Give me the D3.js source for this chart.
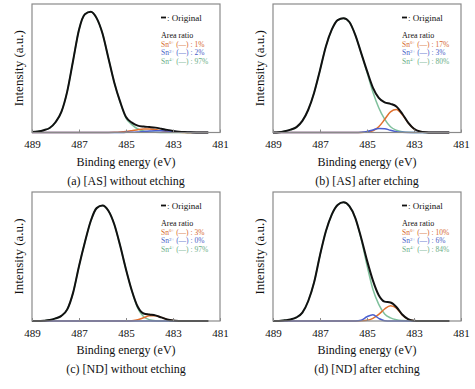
<!DOCTYPE html>
<html>
<head>
<meta charset="utf-8">
<script src="https://cdn.jsdelivr.net/npm/d3@7"></script>
<style>
  body { margin: 0; background: #fff; }
  svg { display: block; }
  svg text { font-family: "Liberation Serif", "DejaVu Serif", "Times New Roman", Times, serif; }
</style>
</head>
<body>
<svg id="chart" width="475" height="389"></svg>
<script>
// binding energy grid (eV), read every 0.25 eV
var energy = [489, 488.75, 488.5, 488.25, 488, 487.75, 487.5, 487.25, 487, 486.75, 486.5, 486.25,
  486, 485.75, 485.5, 485.25, 485, 484.75, 484.5, 484.25, 484, 483.75, 483.5, 483.25,
  483, 482.75, 482.5, 482.25, 482, 481.75, 481.5];

var xTicks = [489, 487, 485, 483, 481];

// (a) [AS] without etching
var asNoEtchOriginal = [0.3, 0.8, 1.8, 3.5, 8, 16, 32, 56, 80, 92, 94, 89, 77, 58, 39, 24, 12, 7.7, 5.35, 4.6, 4.25, 3.8, 2.95, 2.05, 1.25, 0.64, 0.3, 0.11, 0.03, 0, 0];
var asNoEtchSn0 = [0, 0, 0, 0, 0, 0, 0, 0, 0, 0, 0, 0, 0, 0, 0.1, 0.3, 0.7, 1.4, 2.2, 2.7, 2.75, 2.3, 1.5, 0.85, 0.4, 0.14, 0.04, 0, 0, 0, 0];
var asNoEtchSn2 = [0, 0, 0, 0, 0, 0, 0, 0, 0, 0, 0, 0, 0, 0, 0, 0, 0.1, 0.2, 0.45, 0.8, 1.1, 1.36, 1.39, 1.2, 0.85, 0.5, 0.26, 0.11, 0.03, 0, 0];
var asNoEtchSn4 = [0.3, 0.8, 1.8, 3.5, 8, 16, 32, 56, 80, 92, 94, 89, 77, 58, 39, 23.7, 11.2, 6.1, 2.7, 1.1, 0.4, 0.15, 0.05, 0, 0, 0, 0, 0, 0, 0, 0];

// (b) [AS] after etching
var asEtchOriginal = [0, 0.2, 1, 2.2, 4.2, 9, 17.7, 31, 48.5, 67, 80, 87.5, 89, 86, 76, 62, 48, 35, 27, 23.5, 22.3, 20.3, 14.6, 7.7, 2.9, 0.8, 0.15, 0, 0, 0, 0];
var asEtchSn0 = [0, 0, 0, 0, 0, 0, 0, 0, 0, 0, 0, 0, 0, 0, 0, 0, 0.3, 1.4, 4.5, 10.1, 16.1, 17.9, 13.9, 7.6, 2.9, 0.8, 0.15, 0, 0, 0, 0];
var asEtchSn2 = [0, 0, 0, 0, 0, 0, 0, 0, 0, 0, 0, 0, 0, 0, 0, 0.2, 0.8, 2, 3.2, 3, 1.7, 0.6, 0.1, 0, 0, 0, 0, 0, 0, 0, 0];
var asEtchSn4 = [0, 0.2, 1, 2.2, 4.2, 9, 17.7, 31, 48.5, 67, 80, 87.5, 89, 86, 76, 61.8, 46.9, 31.6, 19.3, 10.4, 4.5, 1.8, 0.6, 0.1, 0, 0, 0, 0, 0, 0, 0];

// (c) [ND] without etching
var ndNoEtchOriginal = [0, 0, 0.2, 0.7, 2, 4, 9, 22, 42.5, 61, 77.5, 87.5, 89.5, 85.5, 75, 58.5, 40, 23.5, 11, 5.8, 5, 4.35, 2.8, 1.2, 0.35, 0.06, 0, 0, 0, 0, 0];
var ndNoEtchSn0 = [0, 0, 0, 0, 0, 0, 0, 0, 0, 0, 0, 0, 0, 0, 0, 0, 0, 0.26, 1, 2.5, 4, 4.15, 2.8, 1.2, 0.35, 0.06, 0, 0, 0, 0, 0];
var ndNoEtchSn2 = [0, 0, 0, 0, 0, 0, 0, 0, 0, 0, 0, 0, 0, 0, 0, 0, 0, 0, 0, 0, 0, 0, 0, 0, 0, 0, 0, 0, 0, 0, 0];
var ndNoEtchSn4 = [0, 0, 0.2, 0.7, 2, 4, 9, 22, 42.5, 61, 77.5, 87.5, 89.5, 85.5, 75, 58.5, 40, 23.2, 10, 3.3, 1, 0.2, 0, 0, 0, 0, 0, 0, 0, 0, 0];

// (d) [ND] after etching
var ndEtchOriginal = [0, 0, 0.5, 1.2, 2.8, 6.5, 15.5, 30, 51, 69.5, 82.5, 90, 92, 89, 80, 64.5, 47, 31.5, 20, 15, 14.3, 10.9, 5, 1.4, 0.2, 0, 0, 0, 0, 0, 0];
var ndEtchSn0 = [0, 0, 0, 0, 0, 0, 0, 0, 0, 0, 0, 0, 0, 0, 0, 0.1, 0.5, 2, 5.1, 9.3, 11.9, 10, 4.7, 1.3, 0.2, 0, 0, 0, 0, 0, 0];
var ndEtchSn2 = [0, 0, 0, 0, 0, 0, 0, 0, 0, 0, 0, 0, 0, 0, 0, 0.6, 3.3, 4.9, 2, 0.2, 0, 0, 0, 0, 0, 0, 0, 0, 0, 0, 0];
var ndEtchSn4 = [0, 0, 0.5, 1.2, 2.8, 6.5, 15.5, 30, 51, 69.5, 82.5, 90, 92, 89, 80, 63.8, 43.2, 24.6, 12.9, 5.5, 2.4, 0.9, 0.3, 0.1, 0, 0, 0, 0, 0, 0, 0];

// area ratios shown in the legends (Sn0+, Sn2+, Sn4+)
var ratios = [["1%", "2%", "97%"], ["17%", "3%", "80%"], ["3%", "0%", "97%"], ["10%", "6%", "84%"]];
var captions = ["(a) [AS] without etching", "(b) [AS] after etching", "(c) [ND] without etching", "(d) [ND] after etching"];

var colors = { orig: "#111", sn0: "#e0702e", sn2: "#4a5fd0", sn4: "#7fc09c" };
var textColors = { sn0: "#d6692f", sn2: "#4b5fc8", sn4: "#6aae86" };

var panels = [
  { left: 32, top: 4, right: 220, bottom: 132.5, orig: asNoEtchOriginal, sn0: asNoEtchSn0, sn2: asNoEtchSn2, sn4: asNoEtchSn4 },
  { left: 273, top: 4, right: 461, bottom: 132.5, orig: asEtchOriginal, sn0: asEtchSn0, sn2: asEtchSn2, sn4: asEtchSn4 },
  { left: 32, top: 192, right: 220, bottom: 321, orig: ndNoEtchOriginal, sn0: ndNoEtchSn0, sn2: ndNoEtchSn2, sn4: ndNoEtchSn4 },
  { left: 273, top: 192, right: 461, bottom: 321, orig: ndEtchOriginal, sn0: ndEtchSn0, sn2: ndEtchSn2, sn4: ndEtchSn4 }
];

var serif = "Liberation Serif, DejaVu Serif, Times New Roman, serif";
var svg = d3.select("#chart");

panels.forEach(function(p, i) {
  var x = d3.scaleLinear().domain([489, 481]).range([p.left, p.right]);
  var y = d3.scaleLinear().domain([0, 100]).range([p.bottom, p.top]);
  var g = svg.append("g").attr("font-family", serif);

  var line = d3.line()
    .x(function(d) { return x(d[0]); })
    .y(function(d) { return y(d[1]); })
    .curve(d3.curveMonotoneX);

  function pts(arr) { return energy.map(function(e, k) { return [e, arr[k]]; }); }

  // components first, original on top
  ["sn4", "sn0", "sn2"].forEach(function(s) {
    g.append("path")
      .attr("d", line(pts(p[s])))
      .attr("fill", "none")
      .attr("stroke", colors[s])
      .attr("stroke-width", 1.5);
  });
  g.append("path")
    .attr("d", line(pts(p.orig)))
    .attr("fill", "none")
    .attr("stroke", colors.orig)
    .attr("stroke-width", 2);

  // frame
  g.append("rect")
    .attr("x", p.left).attr("y", p.top)
    .attr("width", p.right - p.left).attr("height", p.bottom - p.top)
    .attr("fill", "none").attr("stroke", "#8a8a8a").attr("stroke-width", 1.2);

  // x axis, ticks pointing inwards
  var axis = g.append("g")
    .attr("transform", "translate(0," + p.bottom + ")")
    .call(d3.axisBottom(x).tickValues(xTicks).tickSizeInner(-3).tickSizeOuter(0).tickPadding(8).tickFormat(d3.format("d")));
  axis.attr("font-family", serif).attr("font-size", 11);
  axis.select(".domain").remove();
  axis.selectAll(".tick line").attr("stroke", "#8a8a8a");
  axis.selectAll("text").attr("fill", "#111");

  var cx = (p.left + p.right) / 2;
  g.append("text").attr("x", cx).attr("y", p.bottom + 33)
    .attr("text-anchor", "middle").attr("font-size", 12).attr("fill", "#111")
    .text("Binding energy (eV)");
  g.append("text").attr("x", cx).attr("y", p.bottom + 52)
    .attr("text-anchor", "middle").attr("font-size", 12).attr("fill", "#111")
    .text(captions[i]);
  g.append("text")
    .attr("transform", "translate(" + (p.left - 9) + "," + ((p.top + p.bottom) / 2) + ") rotate(-90)")
    .attr("text-anchor", "middle").attr("font-size", 13).attr("fill", "#111")
    .text("Intensity (a.u.)");

  // legend
  var lx = p.left + 129, ly = p.top + 13.5;
  g.append("line").attr("x1", lx).attr("x2", lx + 5).attr("y1", ly).attr("y2", ly)
    .attr("stroke", "#111").attr("stroke-width", 1.8);
  g.append("text").attr("x", lx + 6).attr("y", ly + 3).attr("font-size", 9).attr("fill", "#111")
    .text(": Original");
  g.append("text").attr("x", lx).attr("y", p.top + 34).attr("font-size", 8).attr("fill", "#111")
    .text("Area ratio");

  [["sn0", "0+"], ["sn2", "2+"], ["sn4", "4+"]].forEach(function(s, k) {
    var t = g.append("text").attr("x", lx).attr("y", p.top + 42.5 + k * 8.5)
      .attr("font-size", 7.5).attr("fill", textColors[s[0]]);
    t.append("tspan").text("Sn");
    t.append("tspan").attr("dy", -2.5).attr("font-size", 5).text(s[1]);
    t.append("tspan").attr("dy", 2.5).text(" (\u2014) : " + ratios[i][k]);
  });
});
</script>
</body>
</html>
